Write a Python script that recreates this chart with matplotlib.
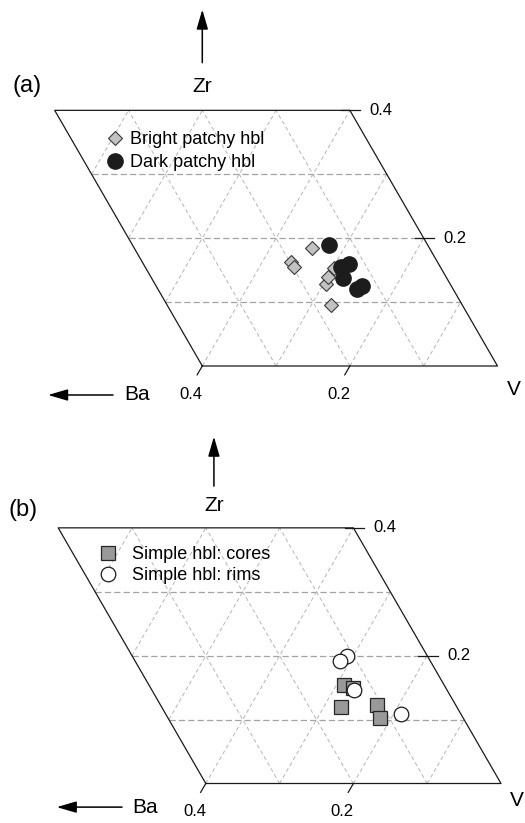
import matplotlib.pyplot as plt
import numpy as np

plt.rcParams['font.family'] = ['Liberation Sans', 'DejaVu Sans']

# Zr / Ba fractions (V = 1 - Ba - Zr)
bright_ba = [0.159, 0.198, 0.198, 0.145, 0.168, 0.160, 0.178]
bright_zr = [0.185, 0.163, 0.155, 0.153, 0.129, 0.140, 0.095]
dark_ba = [0.134, 0.121, 0.135, 0.141, 0.130, 0.121]
dark_zr = [0.189, 0.160, 0.155, 0.137, 0.121, 0.125]

cores_ba = [0.136, 0.126, 0.157, 0.106, 0.113]
cores_zr = [0.154, 0.149, 0.119, 0.123, 0.103]
rims_ba = [0.109, 0.123, 0.126, 0.081]
rims_zr = [0.200, 0.191, 0.146, 0.108]

GRID_STEPS = [0.1, 0.2, 0.3]
ZR_TICKS = [0.4, 0.2]
BA_TICKS = [0.4, 0.2]
R3 = np.sqrt(3) / 2


def tern(ba, zr):
    ba = np.asarray(ba, dtype=float)
    zr = np.asarray(zr, dtype=float)
    return 1 - ba - zr / 2, zr * R3


def frame(ax):
    # outline of the Ba 0-0.4 / Zr 0-0.4 window
    corners = [(0.4, 0), (0, 0), (0, 0.4), (0.4, 0.4), (0.4, 0)]
    x, y = tern([c[0] for c in corners], [c[1] for c in corners])
    ax.plot(x, y, color='#1a1a1a', lw=0.9, zorder=3)
    # grid: Zr const (horizontal)
    for z in GRID_STEPS:
        x, y = tern([0.4, 0], [z, z])
        ax.plot(x, y, color='#a3a3a3', lw=0.9, dashes=(5, 2.5), zorder=1)
    # Ba const
    for b in GRID_STEPS:
        x, y = tern([b, b], [0, 0.4])
        ax.plot(x, y, color='#b5b5b5', lw=0.7, dashes=(4, 3), zorder=1)
    # V const
    for s in np.arange(0.1, 0.75, 0.1):
        z0, z1 = max(0, s - 0.4), min(0.4, s)
        x, y = tern([s - z0, s - z1], [z0, z1])
        ax.plot(x, y, color='#b5b5b5', lw=0.7, dashes=(4, 3), zorder=1)
    # ticks and tick labels
    for z in ZR_TICKS:
        x, y = tern(0, z)
        ax.plot([x - 0.012, x + 0.014], [y, y], color='#1a1a1a', lw=0.9)
        ax.text(x + 0.027, y, f'{z:.1f}', fontsize=12, va='center', ha='left')
    for b in BA_TICKS:
        x, y = tern(b, 0)
        ax.plot([x, x - 0.007], [y, y - 0.012], color='#1a1a1a', lw=0.9)
        ax.text(x - 0.015, -0.038, f'{b:.1f}', fontsize=12, va='center', ha='center')


def setup(fig, top, bottom, ox, oy):
    W, H, S = 525, 823, 738.0
    ax = fig.add_axes([0, 1 - bottom / H, 1, (bottom - top) / H])
    ax.set_xlim(1 - ox / S, 1 + (W - ox) / S)
    ax.set_ylim((oy - bottom) / S, (oy - top) / S)
    ax.axis('off')
    return ax


def arrow(ax, tail, tip):
    ax.annotate('', xy=tip, xytext=tail,
                arrowprops=dict(arrowstyle='-|>,head_length=1.2,head_width=0.35',
                                color='black', lw=1.1, shrinkA=0, shrinkB=0,
                                mutation_scale=10))


fig = plt.figure(figsize=(5.25, 8.23), dpi=100)

# (a)
ax1 = setup(fig, 0, 412, 497.5, 366)
frame(ax1)
x, y = tern(bright_ba, bright_zr)
h1, = ax1.plot(x, y, 'D', ms=7.6, mfc='#c2c2c2', mec='#3a3a3a', mew=0.8,
               ls='none', label='Bright patchy hbl', zorder=4)
x, y = tern(dark_ba, dark_zr)
h2, = ax1.plot(x, y, 'o', ms=11, mfc='#1c1c1c', mec='#1c1c1c',
               ls='none', label='Dark patchy hbl', zorder=5)
ax1.legend(handles=[h1, h2], loc='upper left', bbox_to_anchor=(0.4695, 0.3185),
           bbox_transform=ax1.transData, frameon=False, fontsize=13, borderpad=0,
           handlelength=1.0, handletextpad=0.35, labelspacing=0.33, borderaxespad=0)
ax1.text(0.363, 0.380, '(a)', fontsize=17, ha='center', va='center')
ax1.text(0.600, 0.379, 'Zr', fontsize=15, ha='center', va='center')
arrow(ax1, (0.600, 0.411), (0.600, 0.483))
ax1.text(0.5115, -0.039, 'Ba', fontsize=15, ha='center', va='center')
arrow(ax1, (0.479, -0.0393), (0.391, -0.0393))
ax1.text(1.0224, -0.0325, 'V', fontsize=15, ha='center', va='center')

# (b)
ax2 = setup(fig, 412, 823, 501, 783.5)
frame(ax2)
x, y = tern(cores_ba, cores_zr)
h3, = ax2.plot(x, y, 's', ms=10.3, mfc='#999999', mec='#262626', mew=0.9,
               ls='none', label='Simple hbl: cores', zorder=4)
x, y = tern(rims_ba, rims_zr)
h4, = ax2.plot(x, y, 'o', ms=10.5, mfc='white', mec='#1a1a1a', mew=0.9,
               ls='none', label='Simple hbl: rims', zorder=5)
ax2.legend(handles=[h3, h4], loc='upper left', bbox_to_anchor=(0.4553, 0.322),
           bbox_transform=ax2.transData, frameon=False, fontsize=13, borderpad=0,
           handlelength=1.0, handletextpad=0.8, labelspacing=0.23, borderaxespad=0)
ax2.text(0.352, 0.3706, '(b)', fontsize=17, ha='center', va='center')
ax2.text(0.611, 0.377, 'Zr', fontsize=15, ha='center', va='center')
arrow(ax2, (0.611, 0.403), (0.611, 0.470))
ax2.text(0.5176, -0.032, 'Ba', fontsize=15, ha='center', va='center')
arrow(ax2, (0.4865, -0.032), (0.398, -0.032))
ax2.text(1.031, -0.0224, 'V', fontsize=15, ha='right', va='center')

fig.savefig('out.png', dpi=100)
